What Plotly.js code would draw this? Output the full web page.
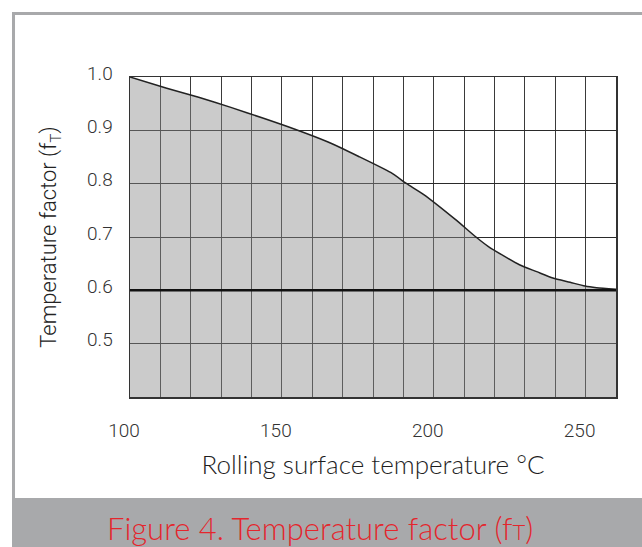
<!DOCTYPE html>
<html>
<head>
<meta charset="utf-8">
<script src="https://cdn.plot.ly/plotly-3.0.1.min.js"></script>
<style>
  html, body { margin: 0; padding: 0; background: #ffffff; }
  #chart { width: 642px; height: 547px; }
</style>
</head>
<body>
<div id="chart"></div>
<script>
// Rolling surface temperature (°C) and the temperature factor
const temperature = [100, 112.1, 122.6, 133.2, 143.7, 154.3, 164.8, 175.3, 185.8, 191.1, 196.6, 207.1, 213.9, 218.0, 222.9, 228.2, 233.9, 239.2, 244.9, 249.8, 253.6, 260];
const factor      = [1.000, 0.979, 0.962, 0.943, 0.923, 0.902, 0.879, 0.851, 0.821, 0.800, 0.780, 0.733, 0.700, 0.682, 0.665, 0.648, 0.635, 0.623, 0.615, 0.608, 0.605, 0.602];

// Axis ticks
const xTickVals = [100, 150, 200, 250];
const xTickText = ["100", "150", "200", "250"];
const yTickVals = [0.5, 0.6, 0.7, 0.8, 0.9, 1.0];
const yTickText = ["0.5", "0.6", "0.7", "0.8", "0.9", "1.0"];

// Reference level drawn as a heavy line
const refLevel = 0.6;

// Texts
const xTitle = "Rolling surface temperature °C";
const yTitle = "Temperature factor (f<sub>T</sub>)";
const caption = "Figure 4. Temperature factor (f<span style=\"font-size:22px\">T</span>)";

const trace = {
  x: temperature,
  y: factor,
  type: "scatter",
  mode: "lines",
  fill: "tozeroy",
  fillcolor: "rgba(140,140,140,0.45)",
  line: { color: "#222222", width: 1.5, shape: "spline", smoothing: 0.6 },
  hoverinfo: "x+y"
};

const frameColor = "#a8a9ab";
const tickFont = { family: "Roboto, Liberation Sans, Arial, sans-serif", size: 19, color: "#333333", weight: 300 };
// plot area: x 130..616 px, y 77..397 px
const layout = {
  width: 642,
  height: 547,
  margin: { l: 130, r: 26, t: 77, b: 150 },
  paper_bgcolor: "#ffffff",
  plot_bgcolor: "#ffffff",
  showlegend: false,
  xaxis: {
    range: [100, 260],
    tickmode: "array",
    tickvals: xTickVals,
    ticktext: xTickText,
    ticks: "",
    ticklabelstandoff: 16,
    ticklabelshift: -6,
    showgrid: true,
    gridcolor: "#3a3a3a",
    gridwidth: 1,
    minor: { dtick: 10, tick0: 100, showgrid: true, gridcolor: "#3a3a3a", gridwidth: 1 },
    zeroline: false,
    showline: true,
    linecolor: "#333333",
    linewidth: 1.5,
    mirror: true,
    tickfont: tickFont,
    title: {
      text: xTitle,
      standoff: 14,
      font: { family: "Lato, sans-serif", size: 26, color: "#1e1e1e", weight: 300 }
    }
  },
  yaxis: {
    range: [0.4, 1.0],
    tickmode: "array",
    tickvals: yTickVals,
    ticktext: yTickText,
    ticks: "",
    ticklabelstandoff: 12,
    ticklabelshift: -4,
    showgrid: true,
    gridcolor: "#2a2a2a",
    gridwidth: 1,
    zeroline: false,
    showline: true,
    linecolor: "#333333",
    linewidth: 1.5,
    mirror: true,
    tickfont: tickFont,
    title: {
      text: yTitle,
      standoff: 24,
      font: { family: "Roboto, Liberation Sans, sans-serif", size: 22, color: "#222222", weight: 300 }
    }
  },
  shapes: [
    // heavy reference line
    { type: "line", xref: "paper", yref: "y", x0: 0, x1: 1, y0: refLevel, y1: refLevel,
      line: { color: "#111111", width: 2.5 }, layer: "above" },
    // outer frame: top rule
    { type: "rect", xref: "paper", yref: "paper", x0: -0.2428, x1: 1.1, y0: 1.194, y1: 1.203,
      fillcolor: frameColor, line: { width: 0 }, layer: "below" },
    // outer frame: left rule
    { type: "rect", xref: "paper", yref: "paper", x0: -0.2428, x1: -0.2366, y0: -0.3156, y1: 1.203,
      fillcolor: frameColor, line: { width: 0 }, layer: "below" },
    // caption band
    { type: "rect", xref: "paper", yref: "paper", x0: -0.2428, x1: 1.1, y0: -0.55, y1: -0.3156,
      fillcolor: frameColor, line: { width: 0 }, layer: "below" }
  ],
  annotations: [
    { text: caption, xref: "paper", yref: "paper", x: 0.391, y: -0.41,
      xanchor: "center", yanchor: "middle", showarrow: false,
      font: { family: "Lato, sans-serif", size: 31, color: "#e4262d", weight: 300 } }
  ]
};

Plotly.newPlot("chart", [trace], layout, { displayModeBar: false, staticPlot: true });
</script>
</body>
</html>
